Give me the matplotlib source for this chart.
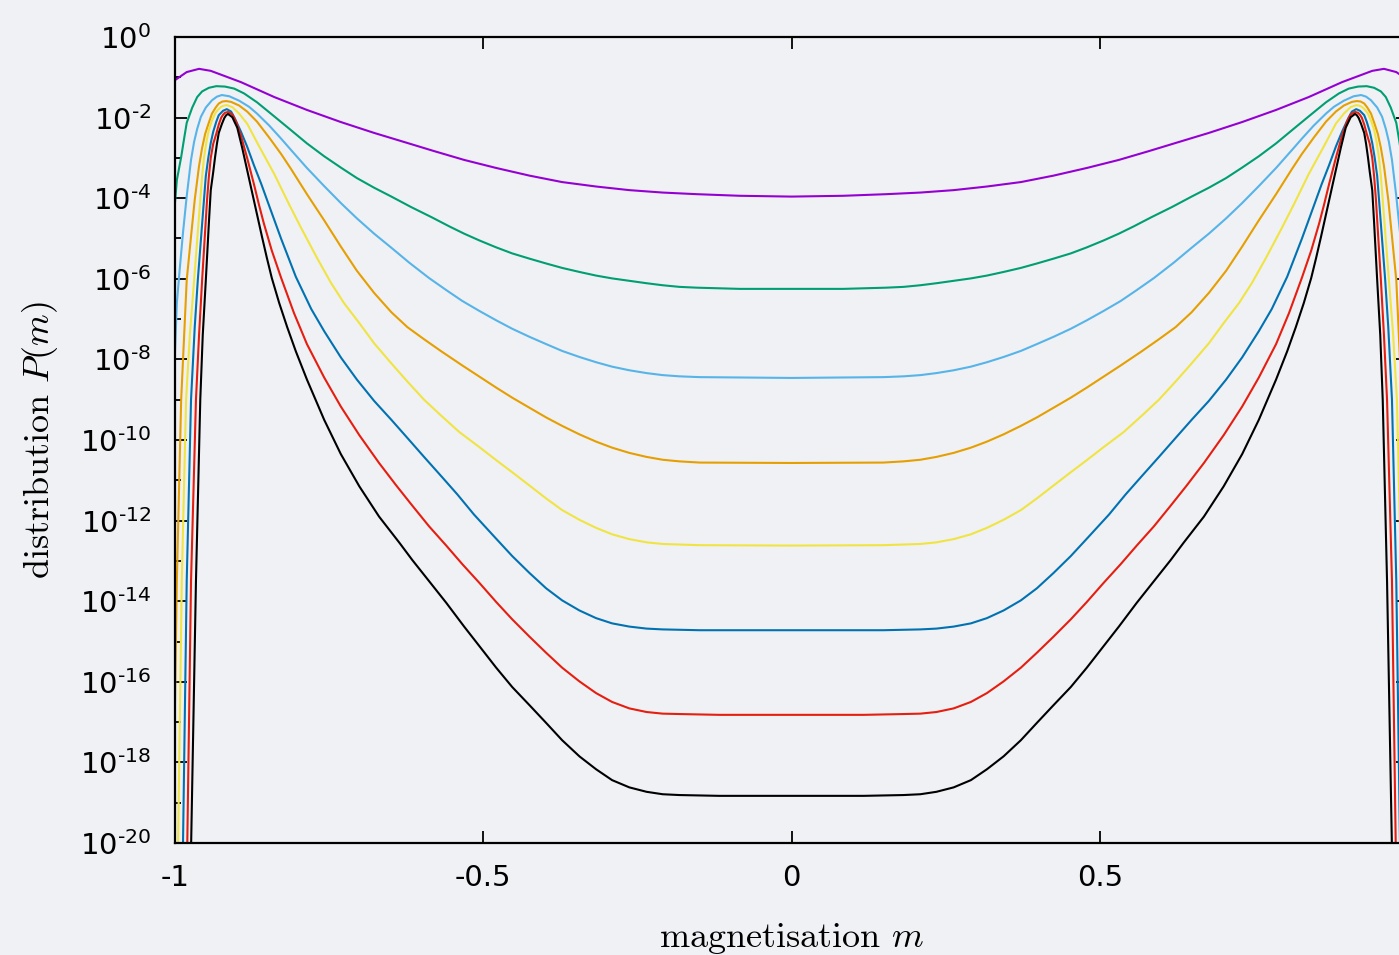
import numpy as np
import matplotlib
matplotlib.use("Agg")
import matplotlib.pyplot as plt
from matplotlib.ticker import FixedLocator, FixedFormatter

# ---- data: left half (m <= 0) of each symmetric distribution, log10 P(m) ----
m_purple = [-1.000, -0.981, -0.961, -0.942, -0.893, -0.839, -0.786, -0.731, -0.677,
            -0.623, -0.580, -0.531, -0.479, -0.425, -0.372, -0.317, -0.263, -0.209,
            -0.154, -0.084, 0.0]
lp_purple = [-1.07, -0.87, -0.79, -0.84, -1.12, -1.49, -1.81, -2.11, -2.38,
             -2.63, -2.83, -3.05, -3.25, -3.44, -3.60, -3.71, -3.80, -3.86,
             -3.90, -3.94, -3.96]

m_green = [-1.000, -0.997, -0.990, -0.985, -0.981, -0.972, -0.964, -0.956, -0.945, -0.933,
           -0.919, -0.904, -0.888, -0.867, -0.839, -0.812, -0.786, -0.758, -0.731, -0.705,
           -0.677, -0.649, -0.617, -0.584, -0.555, -0.531, -0.506, -0.479, -0.453, -0.425,
           -0.398, -0.372, -0.344, -0.317, -0.291, -0.263, -0.235, -0.209, -0.182, -0.154,
           -0.084, 0.0]
lp_green = [-4.10, -3.55, -2.98, -2.50, -2.13, -1.75, -1.49, -1.35, -1.26, -1.22,
            -1.23, -1.28, -1.40, -1.62, -1.97, -2.31, -2.64, -2.96, -3.24, -3.50,
            -3.74, -3.96, -4.22, -4.47, -4.70, -4.88, -5.05, -5.22, -5.37, -5.50,
            -5.62, -5.73, -5.83, -5.92, -5.99, -6.05, -6.11, -6.16, -6.20, -6.22,
            -6.25, -6.25]

m_lblue = [-1.000, -0.997, -0.992, -0.987, -0.981, -0.974, -0.969, -0.964, -0.958, -0.950,
           -0.940, -0.932, -0.924, -0.912, -0.896, -0.880, -0.867, -0.847, -0.828, -0.812,
           -0.786, -0.758, -0.731, -0.705, -0.677, -0.649, -0.620, -0.588, -0.560, -0.534,
           -0.506, -0.479, -0.453, -0.425, -0.398, -0.372, -0.344, -0.317, -0.291, -0.263,
           -0.235, -0.209, -0.182, -0.149, 0.0]
lp_lblue = [-7.80, -6.60, -5.70, -4.85, -3.95, -3.05, -2.60, -2.28, -1.98, -1.75,
            -1.57, -1.48, -1.44, -1.47, -1.58, -1.73, -1.90, -2.20, -2.52, -2.80,
            -3.25, -3.70, -4.12, -4.50, -4.88, -5.23, -5.60, -5.98, -6.28, -6.55,
            -6.80, -7.03, -7.24, -7.44, -7.62, -7.79, -7.94, -8.07, -8.18, -8.27,
            -8.34, -8.39, -8.42, -8.44, -8.46]

m_orange = [-1.000, -0.997, -0.990, -0.981, -0.974, -0.968, -0.961, -0.956, -0.951, -0.945,
            -0.940, -0.934, -0.929, -0.923, -0.917, -0.909, -0.896, -0.883, -0.867, -0.847,
            -0.828, -0.812, -0.786, -0.758, -0.731, -0.705, -0.677, -0.649, -0.623, -0.596,
            -0.568, -0.534, -0.506, -0.479, -0.453, -0.425, -0.398, -0.372, -0.344, -0.317,
            -0.291, -0.263, -0.235, -0.209, -0.182, -0.149, 0.0]
lp_orange = [-16.5, -13.5, -9.0, -6.03, -4.95, -4.04, -3.20, -2.75, -2.40, -2.12,
             -1.90, -1.75, -1.65, -1.60, -1.59, -1.61, -1.70, -1.85, -2.10, -2.50,
             -2.90, -3.27, -3.90, -4.55, -5.20, -5.80, -6.35, -6.83, -7.20, -7.50,
             -7.80, -8.15, -8.43, -8.70, -8.95, -9.20, -9.44, -9.65, -9.86, -10.04,
             -10.19, -10.32, -10.42, -10.49, -10.53, -10.56, -10.57]

m_yellow = [-0.996, -0.995, -0.989, -0.982, -0.976, -0.969, -0.959, -0.956, -0.953, -0.949,
            -0.945, -0.940, -0.935, -0.930, -0.925, -0.920, -0.916, -0.907, -0.896, -0.883,
            -0.864, -0.839, -0.815, -0.795, -0.769, -0.747, -0.726, -0.701, -0.677, -0.649,
            -0.623, -0.596, -0.568, -0.539, -0.506, -0.479, -0.453, -0.425, -0.398, -0.372,
            -0.344, -0.317, -0.291, -0.263, -0.235, -0.209, -0.149, 0.0]
lp_yellow = [-21.0, -20.0, -13.5, -9.0, -7.4, -6.03, -4.04, -3.45, -3.00, -2.60,
             -2.30, -2.07, -1.90, -1.80, -1.73, -1.70, -1.69, -1.74, -1.90, -2.15,
             -2.70, -3.40, -4.15, -4.75, -5.50, -6.10, -6.60, -7.10, -7.60, -8.10,
             -8.55, -9.00, -9.40, -9.80, -10.18, -10.50, -10.80, -11.13, -11.45, -11.74,
             -11.98, -12.18, -12.34, -12.46, -12.54, -12.58, -12.61, -12.62]

m_blue = [-0.988, -0.987, -0.981, -0.974, -0.968, -0.963, -0.953, -0.950, -0.946, -0.942,
          -0.938, -0.933, -0.929, -0.922, -0.916,
          -0.909, -0.903, -0.893, -0.883, -0.872, -0.860, -0.847, -0.828, -0.804, -0.779,
          -0.758, -0.731, -0.705, -0.677, -0.649, -0.623, -0.596, -0.568, -0.542, -0.515,
          -0.479, -0.453, -0.425, -0.398, -0.372, -0.344, -0.317, -0.291, -0.263, -0.235,
          -0.209, -0.149, 0.0]
lp_blue = [-21.0, -20.0, -13.5, -9.0, -7.2, -6.03, -4.04, -3.45, -3.00, -2.63,
           -2.35, -2.10, -1.94, -1.83, -1.79,
           -1.85, -2.02, -2.35, -2.72, -3.18, -3.65, -4.20, -5.00, -5.95, -6.75,
           -7.30, -7.95, -8.50, -9.03, -9.50, -9.95, -10.42, -10.90, -11.35, -11.85,
           -12.45, -12.88, -13.30, -13.68, -13.98, -14.23, -14.42, -14.55, -14.63, -14.68,
           -14.70, -14.72, -14.72]

m_red = [-0.981, -0.974, -0.966, -0.961, -0.956, -0.948, -0.945, -0.942, -0.938, -0.933,
         -0.929, -0.925, -0.922, -0.919, -0.914,
         -0.907, -0.901, -0.893, -0.883, -0.872, -0.864, -0.856, -0.843, -0.828, -0.807,
         -0.786, -0.758, -0.731, -0.701, -0.669, -0.641, -0.615, -0.588, -0.560, -0.534,
         -0.506, -0.479, -0.453, -0.425, -0.398, -0.372, -0.344, -0.317, -0.291, -0.263,
         -0.235, -0.209, -0.182, -0.117, 0.0]
lp_red = [-21.0, -13.5, -9.0, -7.4, -6.03, -4.04, -3.45, -3.00, -2.65, -2.40,
          -2.17, -2.00, -1.93, -1.88, -1.86,
          -1.92, -2.10, -2.45, -3.00, -3.65, -4.15, -4.62, -5.30, -5.97, -6.85,
          -7.62, -8.45, -9.17, -9.88, -10.57, -11.13, -11.63, -12.14, -12.62, -13.08,
          -13.55, -14.02, -14.45, -14.88, -15.28, -15.65, -15.99, -16.28, -16.50, -16.66,
          -16.75, -16.79, -16.80, -16.82, -16.82]

m_black = [-0.975, -0.966, -0.959, -0.955, -0.950, -0.945, -0.942, -0.938, -0.935, -0.932,
           -0.929, -0.924, -0.920, -0.917, -0.914,
           -0.907, -0.899, -0.891, -0.883, -0.875, -0.867, -0.859, -0.851, -0.843, -0.831,
           -0.818, -0.804, -0.786, -0.758, -0.731, -0.701, -0.669, -0.636, -0.615, -0.588,
           -0.560, -0.531, -0.506, -0.479, -0.453, -0.425, -0.398, -0.372, -0.344, -0.317,
           -0.291, -0.263, -0.235, -0.209, -0.182, -0.117, 0.0]
lp_black = [-21.0, -13.5, -9.0, -7.4, -6.03, -4.60, -3.80, -3.35, -2.98, -2.65,
            -2.38, -2.16, -2.01, -1.94, -1.91,
            -1.99, -2.25, -2.75, -3.30, -3.85, -4.40, -4.95, -5.48, -5.98, -6.60,
            -7.20, -7.80, -8.50, -9.50, -10.35, -11.15, -11.90, -12.55, -12.98, -13.50,
            -14.04, -14.63, -15.12, -15.65, -16.13, -16.58, -17.02, -17.45, -17.85, -18.17,
            -18.44, -18.62, -18.73, -18.79, -18.81, -18.83, -18.83]

series = [
    (m_purple, lp_purple, "#9400d3"),
    (m_green, lp_green, "#009e73"),
    (m_lblue, lp_lblue, "#56b4e9"),
    (m_orange, lp_orange, "#e69f00"),
    (m_yellow, lp_yellow, "#f0e442"),
    (m_blue, lp_blue, "#0072b2"),
    (m_red, lp_red, "#e51e10"),
    (m_black, lp_black, "#000000"),
]

x_ticks = [-1, -0.5, 0, 0.5, 1]
x_ticklabels = ["-1", "-0.5", "0", "0.5", ""]
y_major_exp = list(range(0, -21, -2))
y_minor_exp = list(range(-1, -20, -2))

# ---- figure ----
BG = "#f0f1f5"
plt.rcParams["axes.unicode_minus"] = False
fig = plt.figure(figsize=(13.99, 9.55), dpi=100, facecolor=BG)
W, H = 1399, 955
ax = fig.add_axes([175 / W, (H - 843) / H, 1233 / W, 806 / H])
ax.set_facecolor(BG)

for m, lp, c in series:
    m = np.asarray(m, float)
    lp = np.asarray(lp, float)
    m_full = np.concatenate([m, -m[-2::-1]])
    lp_full = np.concatenate([lp, lp[-2::-1]])
    ax.plot(m_full, 10.0 ** lp_full, color=c, lw=1.5, solid_joinstyle="round",
            antialiased=True)

ax.set_yscale("log")
ax.set_xlim(-1, 1)
ax.set_ylim(1e-20, 1)

ax.xaxis.set_major_locator(FixedLocator(x_ticks))
ax.xaxis.set_major_formatter(FixedFormatter(x_ticklabels))
ax.xaxis.set_minor_locator(FixedLocator([]))

ax.yaxis.set_major_locator(FixedLocator([10.0 ** e for e in y_major_exp]))
ax.yaxis.set_major_formatter(FixedFormatter(
    ["$10^{%s}$" % (str(e).replace("-", "\u2010")) for e in y_major_exp]))
ax.yaxis.set_minor_locator(FixedLocator([10.0 ** e for e in y_minor_exp]))
ax.yaxis.set_minor_formatter(FixedFormatter([""] * len(y_minor_exp)))

ax.tick_params(which="both", direction="in", top=True, right=True, width=1.3,
               color="black")
ax.tick_params(which="major", length=8.6)
ax.tick_params(which="minor", length=4.3)
ax.tick_params(axis="x", which="major", labelsize=21, pad=15)
ax.tick_params(axis="y", which="major", labelsize=21, pad=17)

for s in ax.spines.values():
    s.set_linewidth(1.6)

ax.set_xlabel("magnetisation $m$", fontsize=26, fontfamily="cmr10",
              math_fontfamily="cm", va="center")
ax.xaxis.set_label_coords(0.5, -(938 - 843) / 806)
ax.set_ylabel("distribution $P(m)$", fontsize=26, fontfamily="cmr10",
              math_fontfamily="cm", va="center")
ax.yaxis.set_label_coords(-(175 - 40) / 1233, 0.5)

fig.savefig("out.png", dpi=100, facecolor=BG)
